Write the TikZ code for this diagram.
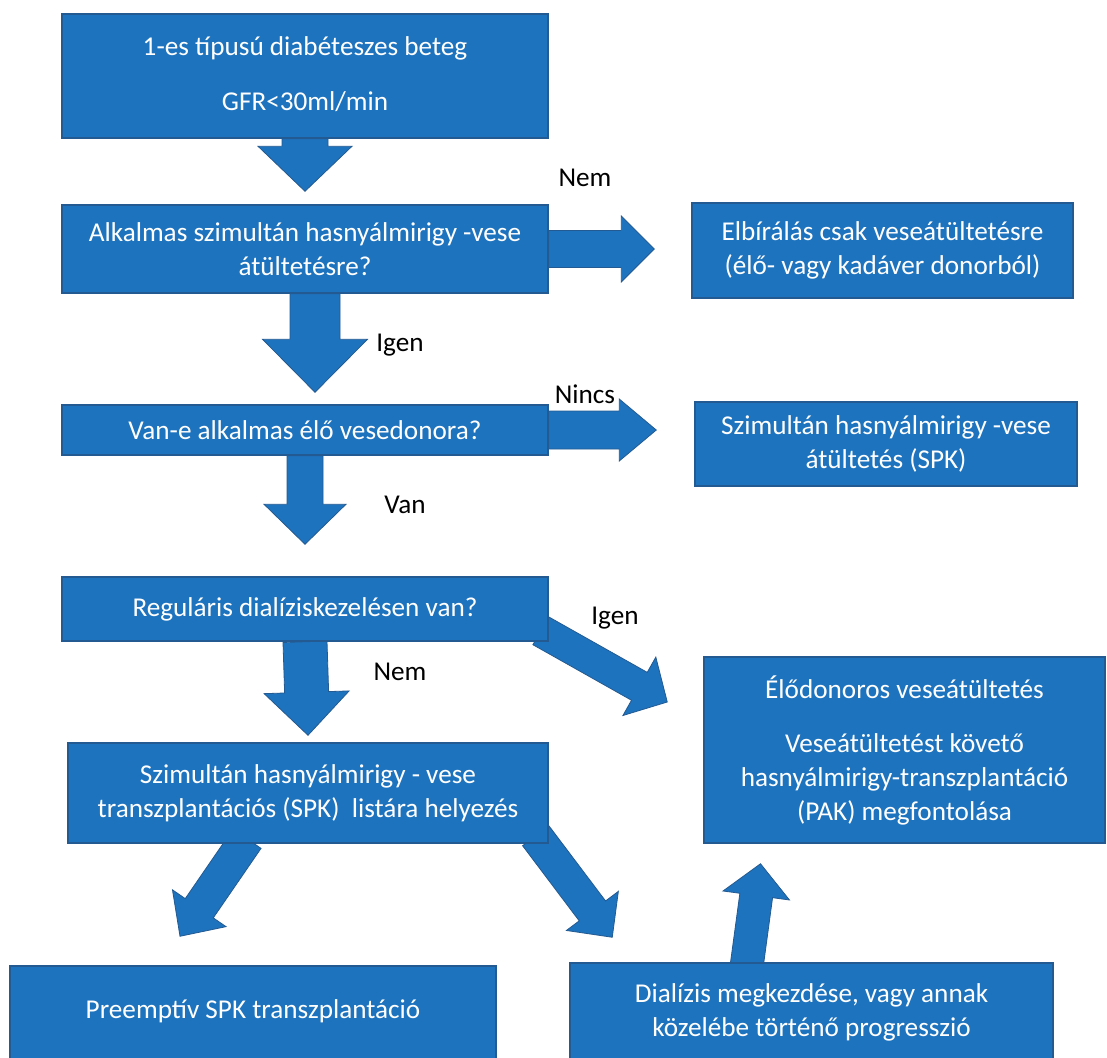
\documentclass[tikz,border=0pt]{standalone}
\usepackage{fontspec}
\setmainfont{Carlito}
\usetikzlibrary{calc}
\definecolor{boxblue}{RGB}{30,115,190}
\definecolor{edgeblue}{RGB}{35,90,145}
\pgfdeclarelayer{background}
\pgfsetlayers{background,main}
\begin{document}
\begin{tikzpicture}[x=0.5pt,y=-0.5pt,font=\fontsize{13.6}{17}\selectfont,
	box/.style={draw=edgeblue,line width=0.75pt,fill=boxblue,text=white,align=center,inner sep=0pt},
	lbl/.style={text=black,inner sep=0pt},
	fatarrow/.style n args={3}{fill=boxblue,draw=edgeblue,line width=0.4pt,line join=miter,
		to path={($(\tikztostart)!#1!90:(\tikztotarget)$)
			-- ($($(\tikztotarget)!#3!(\tikztostart)$)!#1!90:(\tikztotarget)$)
			-- ($($(\tikztotarget)!#3!(\tikztostart)$)!#2!90:(\tikztotarget)$)
			-- (\tikztotarget)
			-- ($($(\tikztotarget)!#3!(\tikztostart)$)!#2!-90:(\tikztotarget)$)
			-- ($($(\tikztotarget)!#3!(\tikztostart)$)!#1!-90:(\tikztotarget)$)
			-- ($(\tikztostart)!#1!-90:(\tikztotarget)$) -- cycle}}]
	\useasboundingbox (0,0) rectangle (1107,1057);
	% left column
	\node[box,minimum width=243pt,minimum height=62pt] (b1) at (305,76) {\raisebox{2pt}{\begin{tabular}{@{}c@{}}1-es típusú diabéteszes beteg\\[10.5pt]GFR<30ml/min\end{tabular}}};
	\node[box,minimum width=243pt,minimum height=44pt] (b2) at (305,249) {Alkalmas szimultán hasnyálmirigy -vese\\átültetésre?};
	\node[box,minimum width=243pt,minimum height=25pt] (b3) at (305,430) {Van-e alkalmas élő vesedonora?};
	\node[box,minimum width=243pt,minimum height=32pt] (b4) at (305,609) {Reguláris dialíziskezelésen van?};
	\node[box,minimum width=240pt,minimum height=50pt] (b5) at (308,793) {Szimultán hasnyálmirigy - vese\\transzplantációs (SPK)\ \ listára helyezés};
	\node[box,minimum width=243pt,minimum height=48pt] (b6) at (253,1014) {\raisebox{4.5pt}{Preemptív SPK transzplantáció}};
	\node[box,minimum width=241.5pt,minimum height=49.5pt] (b7) at (811.5,1012.5) {Dialízis megkezdése, vagy annak\\közelébe történő progresszió};
	% right column
	\node[box,minimum width=190.5pt,minimum height=47.5pt] (e1) at (882.5,250.5) {Elbírálás csak veseátültetésre\\(élő- vagy kadáver donorból)};
	\node[box,minimum width=191pt,minimum height=42pt] (e2) at (886,444) {Szimultán hasnyálmirigy -vese\\átültetés (SPK)};
	\node[box,minimum width=200.5pt,minimum height=93pt] (e3) at (904.5,750) {Élődonoros veseátültetés\\[10pt]Veseátültetést követő\\hasnyálmirigy-transzplantáció\\(PAK) megfontolása};
	% labels
	\node[lbl] (nem1) at (585,178) {Nem};
	\node[lbl] (igen1) at (400,345) {Igen};
	\node[lbl] (nincs) at (585,394) {Nincs};
	\node[lbl] (van) at (405,505) {Van};
	\node[lbl] (igen2) at (615,618) {Igen};
	\node[lbl] (nem2) at (400,672) {Nem};
	\begin{pgfonlayer}{background}
	\draw[fatarrow={11.5pt}{23.5pt}{22.5pt}] (b1.south) to ([yshift=6.5pt]b2.north);
	\draw[fatarrow={9.25pt}{16.5pt}{16.5pt}] (b2.east) to ([xshift=-18.5pt]b2.east -| e1.west);
	\draw[fatarrow={12.5pt}{26.25pt}{26.5pt}] ([xshift=5pt]b2.south) to ([xshift=5pt,yshift=6pt]b3.north);
	\draw[fatarrow={9.5pt}{15.5pt}{18.5pt}] (b3.east) to ([xshift=-19pt]b3.east -| e2.west);
	\draw[fatarrow={9pt}{20.5pt}{20pt}] (b3.south) to ([yshift=16pt]b4.north);
	\draw[fatarrow={8pt}{16.75pt}{16pt}] ([shift={(-8,-11)}]b4.south east) to ([shift={(-36,-48)}]e3.west);
	\draw[fatarrow={11pt}{21.25pt}{21.5pt}] (b4.south) to ([yshift=3.5pt]b5.north);
	\draw[fatarrow={8.5pt}{16.25pt}{17pt}] ([shift={(-61,-5)}]b5.south) to ([shift={(-73,-29)}]b6.north);
	\draw[fatarrow={8.25pt}{16.25pt}{16.5pt}] ([shift={(-13,-8)}]b5.south east) to ([shift={(43,-25)}]b7.north west);
	\draw[fatarrow={8.25pt}{16.75pt}{16pt}] ([shift={(-65,5)}]b7.north) to ([shift={(-144,20)}]e3.south);
	\end{pgfonlayer}
\end{tikzpicture}
\end{document}
